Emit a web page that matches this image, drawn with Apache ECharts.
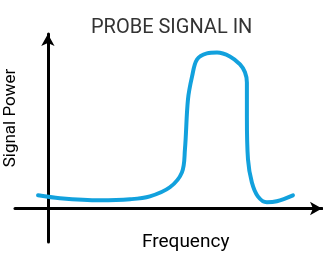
<!DOCTYPE html>
<html><head><meta charset="utf-8">
<script src="https://cdn.jsdelivr.net/npm/echarts@6/dist/echarts.min.js"></script>
<style>html,body{margin:0;padding:0;background:#fff}#c{width:323px;height:253px}</style>
</head><body><div id="c"></div>
<script>
const titleText = "PROBE SIGNAL IN";
const xName = "Frequency";
const yName = "Signal Power";
const frequency = [-3.6, 4.4, 19.0, 30.0, 37.2, 44.5, 48.9, 50.0, 51.1, 52.6, 54.4, 58.0, 61.7, 66.4, 70.1, 71.9, 72.6, 72.6, 73.0, 74.4, 76.6, 79.9, 83.5, 89.4];
const power = [7.7, 6.0, 4.8, 5.4, 7.1, 12.4, 21.1, 34.6, 63.7, 77.2, 87.1, 90.7, 91.2, 88.9, 84.2, 79.6, 73.7, 53.8, 28.7, 15.3, 7.1, 3.6, 4.2, 7.7];

const chart = echarts.init(document.getElementById('c'), null, {renderer: 'canvas'});
chart.setOption({
  animation: false,
  backgroundColor: '#fff',
  title: {text: titleText, left: 86, top: 13, textStyle: {fontFamily: 'Roboto', fontWeight: 'normal', fontSize: 20, color: '#333'}},
  grid: {left: 15, right: 1, top: 34, bottom: 11},
  xAxis: {type: 'value', min: -12, max: 100, axisLine: {onZero: true, lineStyle: {color: '#000', width: 3}, symbol: ['none', 'arrow'], symbolSize: [10, 12]},
    axisTick: {show: false}, axisLabel: {show: false}, splitLine: {show: false}},
  yAxis: {type: 'value', min: -19.6, max: 102, axisLine: {onZero: true, lineStyle: {color: '#000', width: 3}, symbol: ['none', 'arrow'], symbolSize: [10, 12]},
    axisTick: {show: false}, axisLabel: {show: false}, splitLine: {show: false}},
  graphic: [
    {type: 'text', left: 142, top: 233, style: {text: xName, font: '19px Roboto', fill: '#000'}},
    {type: 'text', x: 2, y: 118, rotation: Math.PI/2, style: {text: yName, font: '17px Roboto', fill: '#000', align: 'center', verticalAlign: 'top'}}
  ],
  series: [{type: 'line', data: frequency.map((f, i) => [f, power[i]]), smooth: 0.35, showSymbol: false,
    lineStyle: {color: '#12a1dd', width: 4, cap: 'round'}}]
});
</script></body></html>
